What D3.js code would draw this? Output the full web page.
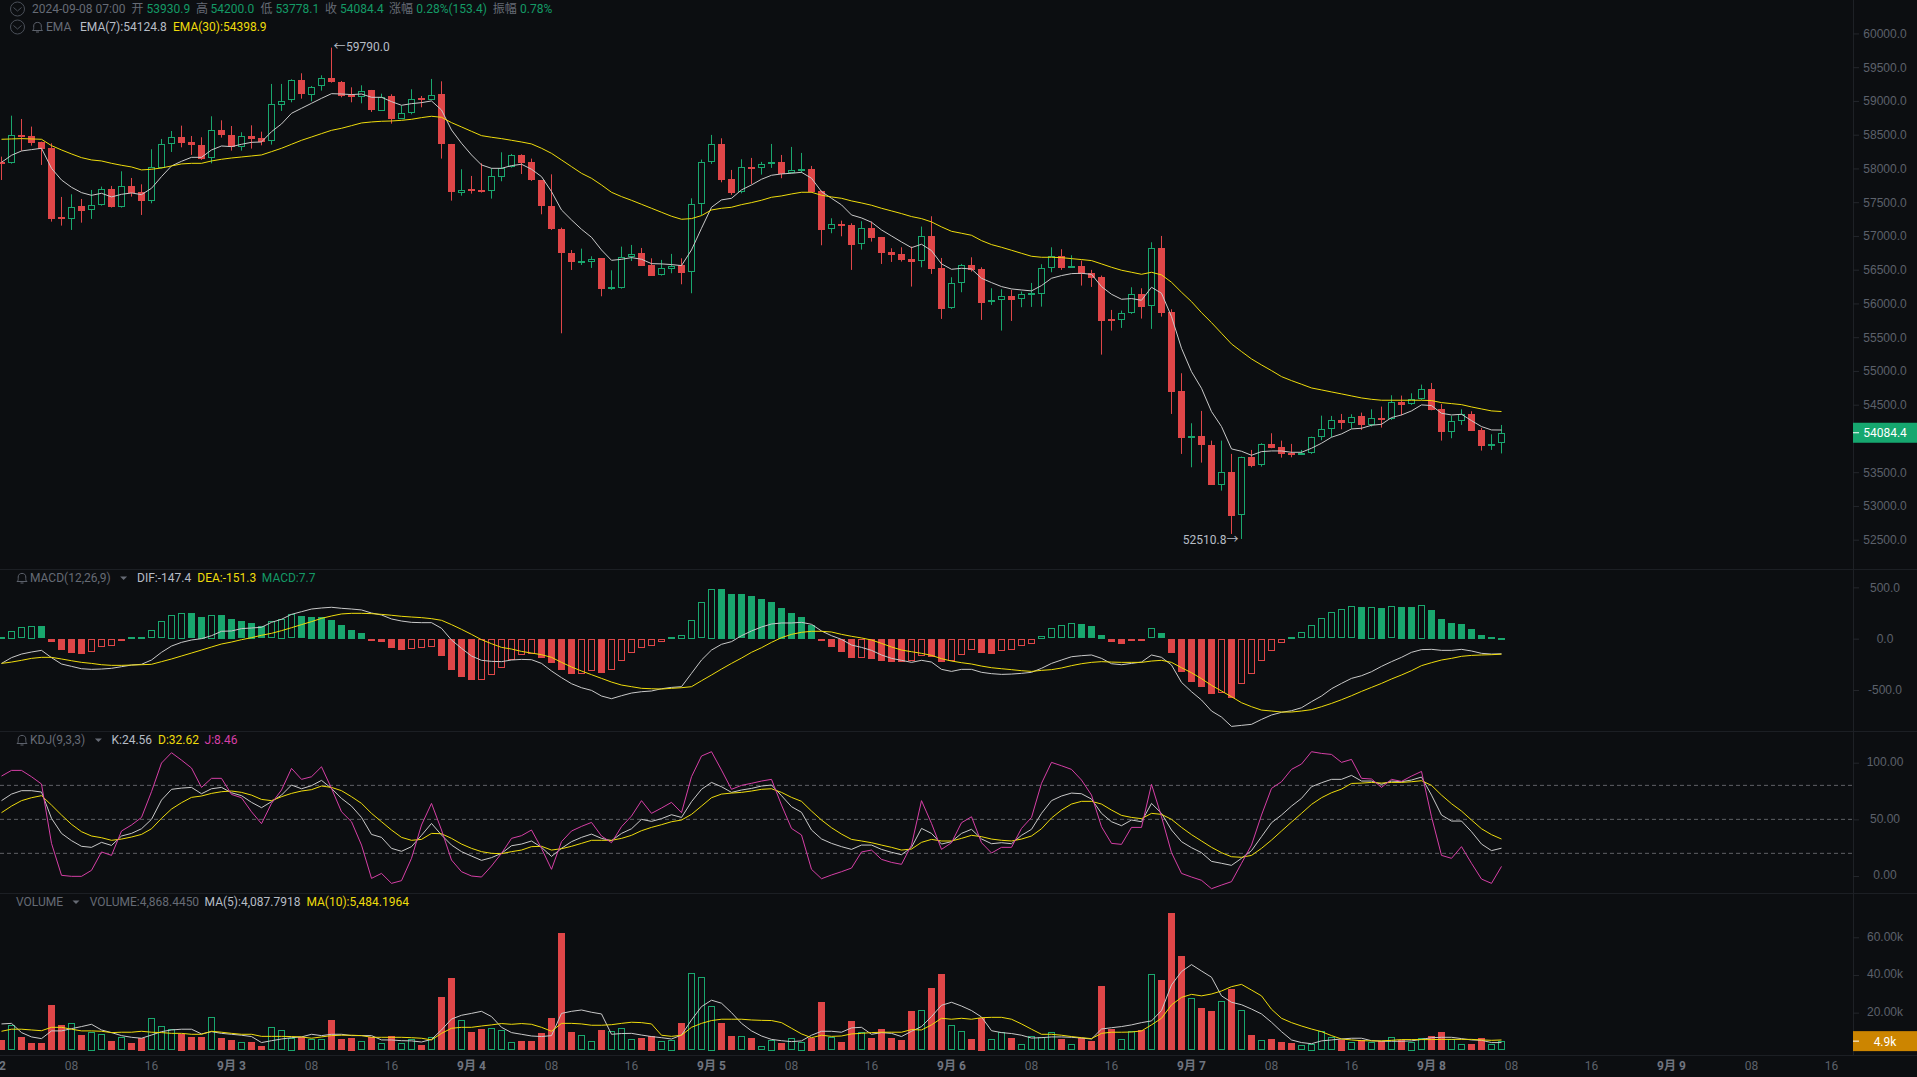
<!DOCTYPE html>
<html>
<head>
<meta charset="utf-8">
<script src="https://cdn.jsdelivr.net/npm/d3@7"></script>
<style>
  html, body { margin: 0; padding: 0; background: #0c0e11; overflow: hidden; }
  svg { display: block; font-family: Roboto, "Noto Sans CJK SC", sans-serif; }
  .axis text { fill: #5c616b; font-size: 12px; }
  .axis line { stroke: #24272c; }
</style>
</head>
<body>
<div id="chart"></div>
<script>
/* hourly candles, 2024-09-02 01:00 to 2024-09-08 07:00 */
const opens = [
  58101,58071,58496,58481,58392,58304,57281,57257,57444,57375,
  57449,57691,57420,57741,57647,57508,58002,58358,58466,58387,
  58348,58146,58565,58491,58313,58481,58447,58397,58950,59005,
  59306,59094,59212,59336,59276,59089,59064,59158,58857,59074,
  58738,58827,59044,59025,59099,58358,57642,57691,57676,57657,
  57884,58012,58200,58091,57825,57439,57099,56743,56605,56620,
  56669,56205,56239,56689,56748,56571,56413,56516,56566,56457,
  57464,58087,58363,57845,57642,58022,57998,58057,58097,57929,
  57963,57993,57667,57094,57178,57163,56872,57119,56985,56763,
  56734,56660,56620,57000,56531,55924,56299,56571,56511,56013,
  56042,56111,56057,56131,56131,56521,56704,56531,56556,56452,
  56393,55771,55746,55850,56141,55953,56823,55874,54699,54013,
  54037,53904,53311,53504,52857,53721,53598,53919,53869,53781,
  53761,53776,54018,54136,54274,54235,54329,54200,54304,54279,
  54541,54501,54580,54734,54432,54092,54255,54363,54126,53894,
  53930.9];
const highs = [
  58175,58782,58733,58620,58397,58373,57578,57617,57548,57681,
  57731,57741,57958,57859,57765,58284,58437,58555,58634,58481,
  58462,58773,58713,58629,58536,58639,58545,59252,59252,59321,
  59410,59222,59380,59790,59296,59202,59232,59163,59108,59099,
  58931,59173,59074,59326,59291,58363,57988,57889,58076,58002,
  58239,58215,58210,58146,57830,57913,57123,56792,56812,56699,
  56669,56491,56842,56867,56822,56669,56645,56734,56669,57558,
  58131,58497,58447,57978,58136,58156,58097,58363,58200,58319,
  58230,58037,57672,57262,57227,57188,57218,57213,56985,56818,
  56832,56842,57139,57292,56674,56388,56586,56684,56536,56225,
  56210,56200,56176,56304,56581,56832,56803,56714,56635,56497,
  56413,55904,55894,56240,56225,56906,57000,55914,54966,54225,
  54408,53968,53968,53771,53731,53830,53929,54077,53968,53919,
  53830,54027,54338,54334,54363,54358,54383,54432,54472,54640,
  54635,54669,54798,54822,54511,54334,54432,54403,54156,54062,
  54200];
const lows = [
  57829,58071,58264,58338,58052,57212,57153,57089,57197,57252,
  57449,57420,57420,57583,57311,57484,58002,58244,58313,58200,
  58126,58076,58457,58264,58264,58294,58343,58353,58852,58980,
  59034,58995,59153,59271,59054,58980,58965,58837,58852,58664,
  58733,58802,58906,59015,58146,57523,57597,57627,57642,57553,
  57810,58012,57918,57815,57321,57089,55558,56496,56570,56526,
  56106,56200,56220,56629,56561,56408,56413,56447,56284,56151,
  57311,58067,57795,57608,57632,57771,57909,58008,57855,57929,
  57934,57642,56862,57040,56995,56497,56798,56916,56585,56615,
  56620,56250,56536,56437,55771,55919,56166,56472,55756,55978,
  55598,55741,55944,55949,55953,56462,56497,56526,56265,56245,
  55242,55598,55637,55845,55776,55623,55805,54363,53771,53573,
  53642,53311,53227,52585,52510.8,53573,53583,53855,53716,53721,
  53756,53771,53973,54018,54136,54146,54126,54176,54161,54274,
  54343,54497,54571,54417,53968,54003,54200,54111,53820,53830,
  53778.1];
const closes = [
  58071,58491,58466,58378,58294,57252,57257,57434,57375,57454,
  57691,57420,57736,57632,57508,58017,58358,58462,58378,58338,
  58146,58565,58486,58318,58476,58442,58392,58950,59005,59306,
  59094,59212,59336,59271,59074,59064,59153,58857,59064,58733,
  58827,59034,59015,59094,58353,57642,57686,57657,57657,57884,
  58012,58195,58081,57820,57434,57094,56738,56605,56625,56664,
  56205,56239,56694,56738,56561,56408,56521,56561,56452,57469,
  58092,58358,57830,57637,58018,57993,58062,58092,57914,57973,
  57988,57647,57089,57173,57148,56867,57114,56971,56748,56719,
  56645,56620,56995,56511,55919,56299,56566,56497,56013,56047,
  56107,56052,56136,56151,56521,56699,56526,56556,56442,56383,
  55746,55741,55855,56136,55948,56818,55860,54689,54008,54037,
  53904,53311,53499,52852,53721,53593,53914,53860,53771,53751,
  53785,54018,54136,54269,54235,54324,54200,54299,54274,54536,
  54501,54580,54729,54422,54087,54255,54358,54116,53889,53914,
  54084.4];
const ema7 = [
  58091,58195,58259,58279,58299,58002,57829,57721,57642,57602,
  57632,57578,57617,57637,57612,57706,57879,58037,58106,58165,
  58165,58274,58333,58323,58358,58387,58392,58545,58659,58817,
  58891,58965,59039,59108,59103,59094,59103,59054,59054,58990,
  58936,58960,58975,59000,58866,58570,58373,58200,58052,58002,
  58002,58042,58062,57988,57879,57657,57385,57237,57099,56980,
  56792,56639,56654,56679,56655,56590,56586,56576,56561,56793,
  57114,57425,57534,57558,57682,57756,57840,57899,57919,57929,
  57943,57855,57657,57558,57460,57311,57267,57203,57089,57000,
  56911,56827,56877,56783,56586,56506,56521,56511,56373,56309,
  56250,56215,56200,56186,56265,56373,56413,56442,56447,56432,
  56250,56136,56062,56072,56047,56240,56151,55805,55336,54990,
  54743,54398,54176,53845,53810,53751,53805,53815,53815,53795,
  53795,53855,53929,54018,54067,54141,54151,54195,54210,54309,
  54348,54408,54497,54487,54373,54348,54358,54264,54176,54126,
  54124.8];
const ema30 = [
  58432,58437,58442,58437,58432,58338,58274,58215,58160,58126,
  58111,58076,58047,58022,57978,57988,58007,58037,58067,58076,
  58076,58111,58136,58155,58170,58185,58200,58249,58299,58358,
  58417,58466,58516,58565,58595,58634,58674,58689,58699,58703,
  58713,58728,58753,58773,58758,58679,58615,58550,58486,58462,
  58442,58417,58392,58363,58299,58224,58126,58027,57928,57854,
  57755,57647,57583,57528,57469,57410,57351,57292,57247,57257,
  57302,57385,57410,57425,57464,57494,57529,57573,57593,57622,
  57647,57647,57603,57578,57558,57519,57489,57455,57410,57371,
  57331,57287,57257,57208,57134,57069,57040,57010,56931,56872,
  56832,56788,56743,56699,56684,56684,56679,56664,56650,56635,
  56586,56536,56492,56462,56432,56462,56423,56314,56166,56027,
  55864,55716,55558,55400,55287,55178,55089,55005,54916,54857,
  54803,54748,54719,54689,54660,54630,54600,54580,54566,54566,
  54566,54566,54566,54561,54531,54516,54501,54467,54437,54408,
  54398.9];
const macdBars = [
  16,75,111,124,120,-33,-111,-140,-150,-130,
  -78,-68,-23,13,13,81,169,231,250,247,
  211,234,231,192,169,153,120,169,192,237,
  218,215,211,182,133,85,55,-13,-33,-91,
  -111,-94,-85,-78,-169,-306,-367,-403,-400,-348,
  -280,-202,-153,-143,-185,-234,-306,-345,-341,-309,
  -332,-306,-215,-133,-85,-65,-26,16,36,182,
  354,488,484,436,432,419,387,358,299,250,
  211,133,-16,-81,-130,-185,-182,-198,-218,-221,
  -228,-218,-163,-172,-228,-218,-156,-107,-140,-143,
  -117,-107,-68,-49,29,101,130,150,140,120,
  36,-33,-52,-23,-16,101,52,-140,-325,-422,
  -471,-540,-530,-572,-442,-341,-218,-117,-39,16,
  62,130,198,257,286,315,309,312,299,315,
  312,309,328,279,192,153,143,94,36,16,
  7.7];
const difLine = [
  -241,-185,-150,-130,-114,-185,-247,-270,-293,-299,
  -296,-289,-273,-257,-250,-208,-133,-72,-36,-13,
  0,29,72,75,98,104,111,159,189,237,
  263,289,299,306,296,289,280,250,231,192,
  172,159,156,156,101,-13,-94,-169,-211,-221,
  -224,-208,-202,-205,-241,-315,-380,-439,-478,-504,
  -559,-585,-556,-530,-517,-510,-488,-475,-468,-338,
  -208,-111,-55,-29,29,75,114,143,153,153,
  159,140,75,29,-7,-62,-85,-114,-159,-192,
  -211,-231,-211,-228,-299,-319,-299,-299,-328,-341,
  -348,-345,-338,-328,-289,-241,-208,-176,-166,-159,
  -192,-244,-254,-241,-228,-159,-182,-257,-426,-517,
  -598,-705,-764,-855,-845,-835,-787,-744,-718,-702,
  -673,-614,-559,-488,-436,-387,-361,-322,-270,-224,
  -182,-133,-107,-104,-114,-114,-104,-120,-143,-150,
  -147.4];
const deaLine = [
  -241,-228,-211,-192,-182,-182,-198,-215,-231,-241,
  -254,-260,-260,-257,-254,-250,-224,-198,-169,-140,
  -111,-81,-52,-33,-10,10,33,52,78,107,
  137,166,198,221,241,247,247,244,237,228,
  218,211,205,195,179,137,91,42,-10,-49,
  -85,-101,-124,-140,-156,-182,-231,-276,-315,-351,
  -387,-423,-452,-468,-484,-488,-491,-484,-478,-468,
  -410,-354,-296,-241,-189,-133,-88,-36,10,42,
  62,72,72,65,42,23,7,-13,-46,-81,
  -111,-127,-143,-163,-195,-218,-234,-247,-267,-283,
  -293,-302,-312,-319,-309,-302,-286,-263,-244,-231,
  -224,-228,-231,-231,-231,-218,-211,-231,-283,-332,
  -390,-455,-510,-566,-624,-663,-696,-705,-715,-715,
  -705,-692,-663,-631,-595,-556,-514,-475,-436,-393,
  -354,-312,-263,-234,-208,-192,-172,-163,-159,-156,
  -151.3];
const kLine = [
  66.5,72.3,75.3,75.3,74.1,50.9,37.6,31.2,26.2,25.3,
  29.7,27,35.3,37.6,41.7,50,67,76.5,77.6,78.2,
  72.6,77,78.2,73.5,70.9,65,60.3,65.6,71.4,80.3,
  77,79.7,84.4,77.3,68.5,61.7,51.7,36.7,34.1,24.4,
  21.8,25.9,35.9,46.4,36.2,27.3,21.5,17.6,13.8,16.2,
  20,26.7,28.2,30.9,25.3,17.3,24.4,30.3,34.1,37,
  33.2,31.2,37.6,41.7,50,48.2,50.6,54.1,51.7,65.6,
  76.5,82.6,78.8,73.8,75.9,77.3,79.4,80.3,70.9,61.2,
  56.2,40.6,32.7,28.8,25.9,23.5,27.3,27.3,23.5,20.9,
  18.8,25.3,42,37.6,28.2,30.3,37.6,41.2,32.7,28.5,
  29.4,28.5,35.9,41.2,55.3,66.5,70.6,73.2,72.6,67.9,
  55.3,47.9,44.4,49.4,47.9,64.1,55.3,40.6,30.3,25,
  20.6,12.9,11.2,9.4,15.6,22.4,34.7,47,53.8,61.7,
  68.5,78.8,82.3,85.3,85.3,88.8,83.8,83.8,80.9,83.8,
  83.2,84.7,87.3,71.4,53.8,48.5,48.5,39.1,28.2,22.4,
  24.56];
const dLine = [
  55.9,61.7,66.5,69.1,70.9,62.6,53.8,45.6,39.1,35.3,
  33.8,31.5,32.6,34.4,36.7,41.7,50.9,59.1,64.7,69.4,
  70.6,72.9,74.4,75,73.8,71.4,67.6,66.5,70,72.9,
  75,76.2,79.4,78.2,75.3,70,64.1,55.3,47.9,40.6,
  34.1,31.5,32.3,37.6,37.3,33.2,28.2,24.4,21.5,20,
  19.7,21.5,22.9,25.9,26.2,22.9,24.1,26.2,28.8,31.5,
  31.5,31.5,33.2,35.9,40,42.9,45.3,47.9,49.4,54.4,
  61.7,69.1,72.3,73.2,73.8,75,76.5,77,73.8,69.4,
  65.9,57.3,49.4,42.6,37,32.3,30.9,29.4,27.3,25.3,
  22.9,23.8,29.7,32.3,30.9,30.9,33.2,35.9,34.7,32.6,
  31.5,30.9,32.6,35.3,41.7,51.2,58.2,63.5,65.9,65.9,
  63.5,58.2,53.5,51.7,50.6,55.3,54.4,50,42.9,36.5,
  30.9,25.3,20.6,17,16.5,18.2,24.4,31.7,39.7,47.6,
  55.3,63.2,69.1,73.5,76.7,81.7,82,82.6,82,82.6,
  82.6,83.2,84.1,80,71.4,63.8,57.3,49.4,41.7,36.5,
  32.62];
const jLine = [
  88.2,93.2,93.2,87.6,81.2,28.8,0.6,-0.3,-0.3,5,
  21.2,18.2,39.7,45,51.7,74.4,99.7,108.8,102.3,95.3,
  78.2,86.2,86.2,72,69.1,56.7,46.2,64.1,75.9,95,
  85.3,87.6,96.4,77.3,56.7,47.9,27.3,-2.1,2.3,-6.5,
  -4.1,15.6,45,64.1,40.6,14.1,3.8,0,-0.9,8.8,
  20,33.2,35.6,40.6,24.4,5.9,30.3,39.7,43.8,47.3,
  35.3,29.4,43.5,52.9,66.5,55.3,60,65,55.9,87.6,
  105.9,109.7,93.5,76.5,80,81.8,83.8,85.3,62.6,42,
  36.2,5.9,-2.4,0.9,3.8,7,21.2,22.9,14.7,12,
  10.3,27.3,66.5,46.4,23.5,29.4,47,52.3,29.4,20.3,
  25.3,25.3,42,51.7,81.8,100.3,97.3,94.1,84.7,71.4,
  43.5,28.8,27.9,42.9,42.9,80.9,52.3,20.6,2.3,-0.9,
  -3.8,-11.2,-8,-5,11.2,27.3,53.8,77.3,83.2,94.1,
  98.8,109.7,108.2,107.3,100.3,102.9,86.2,85.6,78.2,85.3,
  83.5,88.2,92.3,52.3,18.2,15.6,25.9,11.2,-2.7,-6.5,
  8.46];
/* volume in thousands */
const volumes = [
  5.5,13.3,6.9,3.9,3.9,24.1,13.5,14.3,8.1,9.9,
  8.7,5,6.9,3.9,6.7,17,12.7,11.2,8.8,7.1,
  7.1,17.5,6.5,5.5,4.2,4.4,2.3,12.2,10.6,6.7,
  7.1,6,6,16.1,6,6.7,4.8,7.1,3.9,7.6,
  3.9,5.8,2.8,6.9,28.3,38.4,15.9,9.7,11.3,11.9,
  10.6,4.2,5,5,9.2,17.2,62.3,9.7,8,4.8,
  10.8,10.3,11.7,6,6.5,7.8,4.8,5.7,14.5,40.9,
  38.8,23.7,14.5,7.6,7.4,6.5,2.1,5.7,3.9,6.4,
  4.6,6.7,25.7,7.1,4.4,15.6,9.6,6.5,11.3,6.5,
  5.5,20.9,21.2,33.1,40.5,13.3,10.1,6,17.3,5.8,
  9.6,6.5,3.2,7.4,7.1,9.6,6,3.2,6.4,5,
  34.2,11.2,5.8,10.1,10.6,40.4,37.3,72.9,50.1,27.6,
  22.5,20.9,26,32.6,21.2,8.1,5.3,6,4.4,3.9,
  2.7,3.5,10.1,7.1,5.7,4.2,5.5,4.2,4.8,6.9,
  5.5,4.6,6.4,7.6,9.7,6,3.2,3.4,6.5,3.2,
  4.868];
const volMa5 = [
  14,14.3,9.4,7.1,6.2,10.3,10.3,11.5,12.6,13.8,
  10.8,9.4,7.8,6.9,6.4,8.1,9.9,10.8,11.2,11.2,
  8.7,9.9,9,8.5,8,7.3,4.1,5.1,6,6.7,
  7.1,8.5,7.8,8.5,8.5,7.8,7.8,7.8,5.5,5.5,
  5.1,5,4.4,5.8,10.8,16.6,18.6,19.6,20.7,17.9,
  12.2,9.4,8.5,7.6,7.3,7.8,19.6,20.7,21.4,20.2,
  19.3,8.5,8.9,9,8.1,7.3,6.7,6,8.1,16.1,
  23.2,26.6,25,20,14.3,10.3,7.6,5.8,5.1,4.6,
  5,8,10.1,10.1,9.6,11.9,12.2,8.5,9.4,9,
  7.3,10.1,12.6,17.9,23.9,25.5,23.5,21.1,17.7,10.4,
  9.4,8.9,8,6.5,6.7,7.1,7.1,6.9,6.5,6,
  11.3,12,12.6,13.5,14.7,15.6,21.1,34.7,41.8,45.5,
  42.1,38.8,28.9,25.5,24.2,21.9,19.3,14.9,9.9,5.5,
  4.1,3.5,5,5.5,6,6.4,6.4,5.1,4.8,4.8,
  4.8,5,5.8,6.7,6.9,6.9,6.2,5.5,5.3,4.1,
  4.088];
const volMa10 = [
  10.1,11.2,11.2,10.8,10.4,12.2,12.2,11.2,10.3,10.3,
  10.1,9.4,9.6,9.6,10.1,9.6,9.4,9,9,8.5,
  8.5,10.1,9.6,9,8.5,8.5,7.4,7.4,7.4,7.3,
  7.1,6.4,7.1,7.8,8,8,7.8,6.9,6.9,6.9,
  6.9,6.7,6.4,5.5,9,11.7,12.2,12.2,12.9,13.5,
  14.2,13.8,14.2,13.8,12.2,10.1,14.3,14.3,14,13.3,
  13.3,13.6,14.3,14.9,14.7,14,8,7.4,8,12.2,
  14.3,15.8,16.5,16.5,16.5,16.1,15.9,15.8,14.7,11.7,
  8.7,6.7,8,7.4,7.6,8.7,9,9.4,9.6,9.6,
  9.6,11,10.8,13.5,17,16.5,17,16.5,17.3,17.5,
  17.5,16.5,14,11.2,8.5,8.5,8,7.3,6.7,6.2,
  9,9.6,9.6,9.7,10.3,13.5,17,24.1,28.1,29.7,
  28.9,29.9,31.5,33.8,35,32,28.9,21.8,17,14.7,
  12.9,11.3,9.9,7.8,6,5.5,5.1,5,5,5.3,
  5.7,5.7,5.7,5.7,5.8,5.8,5.8,5.8,5.5,5.3,
  5.484];

/* 54000.0 sits under the last price badge, so it is not labelled */
const priceTicks = [52500,53000,53500,54500,55000,55500,56000,56500,57000,57500,58000,58500,59000,59500,60000];
const macdTicks = [-500,0,500];
const kdjTicks = [0,50,100];
const kdjGuides = [20,50,80];
const volTicks = [20,40,60];

const WIDTH = 1917, HEIGHT = 1077, AXIS_X = 1853, BAR_W = 7;
const UP = "#19a76e", DOWN = "#e04648", YELLOW = "#efdc0c", WHITE = "#c9c9c9", PINK = "#d63fa6";
const MUTED = "#666b75", LIGHT = "#b7bdc6";

const firstHour = new Date(2024, 8, 2, 1);
const candles = closes.map((c, i) => ({
  t: d3.timeHour.offset(firstHour, i),
  open: opens[i], high: highs[i], low: lows[i], close: c,
  up: c >= opens[i],
  hist: macdBars[i],
  histUp: i > 0 && macdBars[i] > macdBars[i - 1],
  vol: volumes[i],
}));

const x = d3.scaleTime()
  .domain([d3.timeHour.offset(firstHour, -1), d3.timeHour.offset(firstHour, 182)])
  .range([-8.5, 1821.5]);
const yPrice = d3.scaleLinear().domain([52500, 60000]).range([539.7, 33.45]);
const yMacd = d3.scaleLinear().domain([-500, 500]).range([689.97, 587.37]);
const yKdj = d3.scaleLinear().domain([0, 100]).range([876, 762.7]);
const yVol = d3.scaleLinear().domain([0, 60]).range([1050.3, 937.3]);

const svg = d3.select("#chart").append("svg").attr("width", WIDTH).attr("height", HEIGHT);
svg.append("rect").attr("width", WIDTH).attr("height", HEIGHT).attr("fill", "#0c0e11");

const px = (t) => x(t);

/* filled or 1px outlined bar between two y values */
function drawBars(g, data, xOf, yA, yB, color, hollow) {
  g.selectAll("rect")
    .data(data)
    .join("rect")
    .attr("x", (d) => px(xOf(d)) - BAR_W / 2 + (hollow(d) ? 0.5 : 0))
    .attr("width", (d) => (hollow(d) ? BAR_W - 1 : BAR_W))
    .attr("y", (d) => {
      const top = Math.round(Math.min(yA(d), yB(d)));
      return hollow(d) ? top + 0.5 : top;
    })
    .attr("height", (d) => {
      const h = Math.max(2, Math.round(Math.abs(yA(d) - yB(d))));
      return hollow(d) ? h - 1 : h;
    })
    .attr("fill", (d) => (hollow(d) ? "none" : color(d)))
    .attr("stroke", (d) => (hollow(d) ? color(d) : "none"))
    .attr("stroke-width", 1);
}

function plotLine(values, y, color) {
  const line = d3.line().x((d, i) => x(candles[i].t)).y((d) => y(d));
  svg.append("path")
    .datum(values)
    .attr("fill", "none")
    .attr("stroke", color)
    .attr("stroke-width", 1)
    .attr("stroke-linejoin", "round")
    .attr("d", line);
}

function plotAxis(y, ticks, format, labelShift) {
  const g = svg.append("g")
    .attr("class", "axis")
    .attr("transform", `translate(${AXIS_X},0)`)
    .call(d3.axisRight(y).tickValues(ticks).tickFormat(format).tickSize(6));
  g.select(".domain").remove();
  g.selectAll("text").attr("x", 32).attr("y", labelShift || 0).attr("text-anchor", "middle");
}

/* panel separators and the axis rule */
[569.5, 731.5, 893.5, 1055.5].forEach((yy) => {
  svg.append("line").attr("x1", 0).attr("x2", WIDTH).attr("y1", yy).attr("y2", yy)
    .attr("stroke", "#1c1f24");
});
svg.append("line").attr("x1", AXIS_X + 0.5).attr("x2", AXIS_X + 0.5).attr("y1", 0).attr("y2", 1055)
  .attr("stroke", "#1e2126");

/* candles */
svg.append("g").selectAll("line")
  .data(candles)
  .join("line")
  .attr("x1", (d) => px(d.t))
  .attr("x2", (d) => px(d.t))
  .attr("y1", (d) => yPrice(d.high))
  .attr("y2", (d) => yPrice(d.low))
  .attr("stroke", (d) => (d.up ? UP : DOWN));

const bodies = svg.append("g");
drawBars(bodies, candles, (d) => d.t, (d) => yPrice(d.open), (d) => yPrice(d.close),
  (d) => (d.up ? UP : DOWN), (d) => d.up);
/* hide the wick inside hollow bodies */
bodies.selectAll("rect").filter((d) => d.up).attr("fill", "#0c0e11");

plotLine(ema7, yPrice, WHITE);
plotLine(ema30, yPrice, YELLOW);

/* high and low markers */
const hiCandle = candles[d3.maxIndex(candles, (d) => d.high)];
const loCandle = candles[d3.minIndex(candles, (d) => d.low)];
svg.append("text").attr("x", px(hiCandle.t) + 2).attr("y", yPrice(hiCandle.high) + 3)
  .attr("font-size", 12).attr("fill", LIGHT).text("←");
svg.append("text").attr("x", px(hiCandle.t) + 14.5).attr("y", yPrice(hiCandle.high) + 3)
  .attr("font-size", 12).attr("fill", LIGHT).text(hiCandle.high.toFixed(1));
svg.append("text").attr("x", px(loCandle.t) - 15).attr("y", yPrice(loCandle.low) + 5)
  .attr("text-anchor", "end").attr("font-size", 12).attr("fill", LIGHT).text(loCandle.low.toFixed(1));
svg.append("text").attr("x", px(loCandle.t) - 3).attr("y", yPrice(loCandle.low) + 5)
  .attr("text-anchor", "end").attr("font-size", 12).attr("fill", LIGHT).text("→");

plotAxis(yPrice, priceTicks, (d) => d.toFixed(1));

/* MACD */
drawBars(svg.append("g"), candles, (d) => d.t, (d) => yMacd(0), (d) => yMacd(d.hist),
  (d) => (d.hist >= 0 ? UP : DOWN), (d) => d.histUp);
plotLine(difLine, yMacd, WHITE);
plotLine(deaLine, yMacd, YELLOW);
plotAxis(yMacd, macdTicks, (d) => d.toFixed(1));

/* KDJ */
svg.append("g").selectAll("line")
  .data(kdjGuides)
  .join("line")
  .attr("x1", 0)
  .attr("x2", AXIS_X)
  .attr("y1", (d) => yKdj(d))
  .attr("y2", (d) => yKdj(d))
  .attr("stroke", "#5f6166")
  .attr("stroke-dasharray", "4 3");
plotLine(kLine, yKdj, WHITE);
plotLine(dLine, yKdj, YELLOW);
plotLine(jLine, yKdj, PINK);
plotAxis(yKdj, kdjTicks, (d) => d.toFixed(2), -1);

/* volume */
drawBars(svg.append("g"), candles, (d) => d.t, (d) => yVol(0), (d) => yVol(d.vol),
  (d) => (d.up ? UP : DOWN), (d) => d.up);
plotLine(volMa5, yVol, WHITE);
plotLine(volMa10, yVol, YELLOW);
plotAxis(yVol, volTicks, (d) => d.toFixed(2) + "k", -1);

/* last value badges */
function badge(yy, color, label) {
  svg.append("rect").attr("x", AXIS_X).attr("y", yy - 10).attr("width", WIDTH - AXIS_X).attr("height", 20).attr("fill", color);
  svg.append("line").attr("x1", AXIS_X).attr("x2", AXIS_X + 6).attr("y1", yy).attr("y2", yy).attr("stroke", "#fff");
  svg.append("text").attr("x", AXIS_X + 32).attr("y", yy + 4.5).attr("text-anchor", "middle")
    .attr("font-size", 12).attr("fill", "#fff").text(label);
}
badge(yPrice(closes[closes.length - 1]), "#16a76f", closes[closes.length - 1].toFixed(1));
badge(yVol(volumes[volumes.length - 1]), "#cc8500", volumes[volumes.length - 1].toFixed(1) + "k");

/* time axis */
const timeTicks = d3.timeHour.range(new Date(2024, 8, 2, 0), new Date(2024, 8, 9, 17), 8);
svg.append("g").selectAll("text")
  .data(timeTicks)
  .join("text")
  .attr("x", (d) => px(d))
  .attr("y", 1070)
  .attr("text-anchor", "middle")
  .attr("font-size", 12)
  .attr("font-weight", (d) => (d.getHours() === 0 ? 700 : 400))
  .attr("fill", (d) => (d.getHours() === 0 ? "#6f747e" : "#5c616b"))
  .text((d) => (d.getHours() === 0 ? `${d.getMonth() + 1}月 ${d.getDate()}` : d3.timeFormat("%H")(d)));

/* legends */
function label(xx, yy, str, color) {
  svg.append("text").attr("x", xx).attr("y", yy).attr("font-size", 12).attr("fill", color).text(str);
}
function chevron(cy) {
  svg.append("circle").attr("cx", 17.5).attr("cy", cy).attr("r", 7).attr("fill", "none").attr("stroke", "#4a4f58");
  svg.append("path").attr("d", `M13.5 ${cy - 1.5}L17.5 ${cy + 2}L21.5 ${cy - 1.5}`).attr("fill", "none").attr("stroke", "#4a4f58");
}
function bell(cx, cy) {
  svg.append("path")
    .attr("transform", `translate(${cx},${cy})`)
    .attr("d", "M-5 3.5C-3.5 2.5-3.8 1-3.8-1C-3.8-3.5-2-4.6 0-4.6C2-4.6 3.8-3.5 3.8-1C3.8 1 3.5 2.5 5 3.5ZM-1.5 5H1.5")
    .attr("fill", "none")
    .attr("stroke", "#5c616b");
}
function caret(cx, cy) {
  svg.append("path").attr("d", `M${cx - 3.5} ${cy - 1.5}H${cx + 3.5}L${cx} ${cy + 2}Z`).attr("fill", "#666b75");
}

chevron(9);
chevron(27);
label(32, 13, "2024-09-08 07:00", MUTED);
[[131.4, "开", 146.5, "53930.9"], [196, "高", 210.6, "54200.0"], [260.4, "低", 275.5, "53778.1"],
  [325, "收", 340, "54084.4"], [389, "涨幅", 416.3, "0.28%(153.4)"], [492.7, "振幅", 520, "0.78%"]]
  .forEach((d) => {
    label(d[0], 13, d[1], MUTED);
    label(d[2], 13, d[3], "#149a66");
  });
bell(37.5, 27);
label(46, 31, "EMA", MUTED);
label(80, 31, "EMA(7):54124.8", LIGHT);
label(173, 31, "EMA(30):54398.9", YELLOW);

bell(22, 578);
label(30, 582, "MACD(12,26,9)", MUTED);
caret(123.6, 578);
label(137, 582, "DIF:-147.4", LIGHT);
label(197.3, 582, "DEA:-151.3", YELLOW);
label(261.8, 582, "MACD:7.7", "#149a66");

bell(22, 740);
label(30, 744, "KDJ(9,3,3)", MUTED);
caret(98.4, 740);
label(111.5, 744, "K:24.56", LIGHT);
label(158, 744, "D:32.62", YELLOW);
label(204.6, 744, "J:8.46", PINK);

label(16, 906, "VOLUME", MUTED);
caret(76, 902);
label(89.7, 906, "VOLUME:4,868.4450", MUTED);
label(204.6, 906, "MA(5):4,087.7918", LIGHT);
label(306.4, 906, "MA(10):5,484.1964", YELLOW);
</script>
</body>
</html>
